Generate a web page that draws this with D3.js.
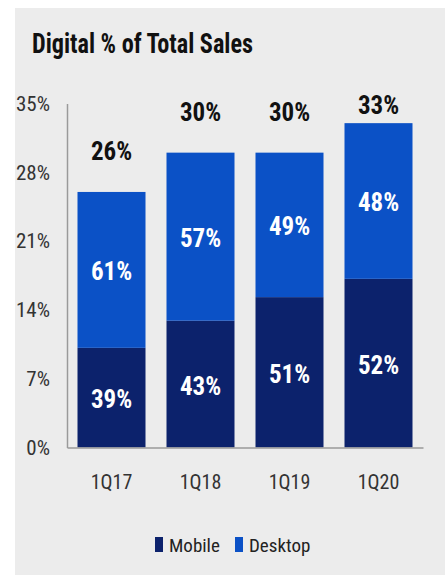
<!DOCTYPE html>
<html>
<head>
<meta charset="utf-8">
<script src="https://cdn.jsdelivr.net/npm/d3@7"></script>
<style>
  body { margin: 0; background: #fff; }
  text { font-family: "Liberation Sans Narrow", "Roboto Condensed", "Noto Sans", sans-serif; }
</style>
</head>
<body>
<div id="chart"></div>
<script>
// chart data
var categories = ["1Q17", "1Q18", "1Q19", "1Q20"];
var totals = [26, 30, 30, 33];          // digital % of total sales
var mobileShare = [39, 43, 51, 52];     // share of digital that is mobile
var desktopShare = [61, 57, 49, 48];    // share of digital that is desktop
var yTicks = [0, 7, 14, 21, 28, 35];
var seriesNames = ["Mobile", "Desktop"];

var W = 445, H = 575;
var colors = { Mobile: "#0c226c", Desktop: "#0b51c6" };

var svg = d3.select("#chart").append("svg")
  .attr("width", W)
  .attr("height", H);

// gray panel
svg.append("rect")
  .attr("x", 15).attr("y", 8)
  .attr("width", W - 15).attr("height", H - 8)
  .attr("fill", "#ececec");

svg.append("text")
  .attr("x", 32).attr("y", 53)
  .attr("font-size", 27)
  .attr("font-weight", "bold")
  .attr("fill", "#111")
  .attr("textLength", 221)
  .attr("lengthAdjust", "spacingAndGlyphs")
  .text("Digital % of Total Sales");

// scales
var x = d3.scaleBand()
  .domain(categories)
  .range([67, 423])
  .paddingInner(0.236)
  .paddingOuter(0.118);

var y = d3.scaleLinear()
  .domain([0, 35])
  .range([447.5, 103.5]);

// build stacked rows
var rows = categories.map(function (c, i) {
  return {
    cat: c,
    total: totals[i],
    Mobile: totals[i] * mobileShare[i] / 100,
    Desktop: totals[i] * desktopShare[i] / 100,
    mShare: mobileShare[i],
    dShare: desktopShare[i]
  };
});

var stack = d3.stack().keys(seriesNames);
var layers = stack(rows);

svg.append("g")
  .selectAll("g")
  .data(layers)
  .enter().append("g")
  .attr("fill", function (d) { return colors[d.key]; })
  .selectAll("rect")
  .data(function (d) { return d; })
  .enter().append("rect")
  .attr("x", function (d) { return x(d.data.cat); })
  .attr("y", function (d) { return y(d[1]); })
  .attr("width", x.bandwidth())
  .attr("height", function (d) { return y(d[0]) - y(d[1]); });

// share labels inside segments
layers.forEach(function (layer) {
  svg.append("g")
    .selectAll("text")
    .data(layer)
    .enter().append("text")
    .attr("x", function (d) { return x(d.data.cat) + x.bandwidth() / 2; })
    .attr("y", function (d) { return (y(d[0]) + y(d[1])) / 2 + 2; })
    .attr("text-anchor", "middle")
    .attr("dominant-baseline", "central")
    .attr("font-size", 25)
    .attr("font-weight", "bold")
    .attr("fill", "#fff")
    .text(function (d) {
      return (layer.key === "Mobile" ? d.data.mShare : d.data.dShare) + "%";
    });
});

// total labels above bars
svg.append("g")
  .selectAll("text")
  .data(rows)
  .enter().append("text")
  .attr("x", function (d) { return x(d.cat) + x.bandwidth() / 2; })
  .attr("y", function (d) { return Math.max(y(d.total) - 40, 105); })
  .attr("text-anchor", "middle")
  .attr("dominant-baseline", "central")
  .attr("font-size", 25)
  .attr("font-weight", "bold")
  .attr("fill", "#111")
  .text(function (d) { return d.total + "%"; });

// y axis
var yAxis = svg.append("g")
  .attr("transform", "translate(67,0)")
  .call(d3.axisLeft(y).tickValues(yTicks).tickSize(0).tickPadding(17)
    .tickFormat(function (d) { return d + "%"; }));
yAxis.select(".domain").attr("stroke", "#9a9a9a").attr("stroke-width", 1.5);
yAxis.selectAll("text").attr("font-size", 21).attr("fill", "#333");

// x axis
var xAxis = svg.append("g")
  .attr("transform", "translate(0,447.5)")
  .call(d3.axisBottom(x).tickSize(0).tickPadding(27));
xAxis.select(".domain").attr("stroke", "#9a9a9a").attr("stroke-width", 1.5);
xAxis.selectAll("text").attr("font-size", 20).attr("fill", "#333");

// legend
var legend = svg.append("g").attr("transform", "translate(155,536)");
var lx = [0, 80];
seriesNames.forEach(function (s, i) {
  legend.append("rect")
    .attr("x", lx[i]).attr("y", 1)
    .attr("width", 8).attr("height", 15)
    .attr("fill", colors[s]);
  legend.append("text")
    .attr("x", lx[i] + 14).attr("y", 16)
    .attr("font-size", 19)
    .attr("fill", "#222")
    .text(s);
});
</script>
</body>
</html>
